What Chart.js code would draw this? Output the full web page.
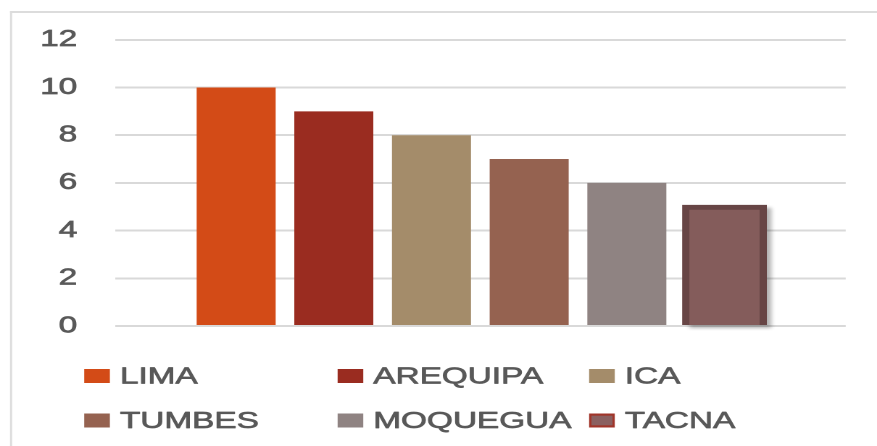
<!DOCTYPE html>
<html>
<head>
<meta charset="utf-8">
<script src="https://cdn.jsdelivr.net/npm/chart.js@4.4.1/dist/chart.umd.min.js"></script>
<style>
  html, body { margin: 0; padding: 0; background: #ffffff; overflow: hidden; }
  /* the chart is laid out in a narrower box and widened, giving the wide lettering */
  #wrap {
    position: absolute; left: 0; top: 0;
    width: 605px; height: 446px;
    transform: scaleX(1.4496);
    transform-origin: 0 0;
  }
</style>
</head>
<body>
<div id="wrap"><canvas id="chart"></canvas></div>
<script>
// Regions and their values
const regions = ['LIMA', 'AREQUIPA', 'ICA', 'TUMBES', 'MOQUEGUA', 'TACNA'];
const values = [10, 9, 8, 7, 6, 5];
const categories = [''];
const yTicks = [0, 2, 4, 6, 8, 10, 12];

const fills = ['#D34B17', '#9A2C20', '#A48C6A', '#956250', '#8F8382', '#845C5B'];

const FONT = '"Liberation Sans", Arial, sans-serif';
const TEXT = '#595959';

const datasets = regions.map((name, i) => {
  const ds = {
    label: name,
    data: [values[i]],
    backgroundColor: fills[i],
    borderWidth: 0,
    categoryPercentage: 0.802,
    barPercentage: 0.809
  };
  if (name === 'TACNA') {
    ds.borderColor = '#674545';
    ds.borderWidth = 5;
    ds.inflateAmount = 2;
    ds.swatchFill = '#8A6060';
    ds.swatchBorder = '#A0352A';
  }
  return ds;
});

// light frame along the top and left edges
const framePlugin = {
  id: 'frame',
  beforeDraw(chart) {
    const ctx = chart.ctx;
    ctx.save();
    ctx.fillStyle = '#DCDCDC';
    ctx.fillRect(6.9, 11, chart.width - 6.9, 2);
    ctx.fillRect(6.9, 11, 1.4, chart.height - 11);
    ctx.restore();
  }
};

// soft drop shadow behind the outlined bar
const shadowPlugin = {
  id: 'barShadow',
  beforeDatasetDraw(chart, args) {
    const ds = chart.data.datasets[args.index];
    if (!ds.swatchBorder) return;
    const el = args.meta.data[0];
    if (!el) return;
    const p = el.getProps(['x', 'y', 'base', 'width'], true);
    const ctx = chart.ctx;
    ctx.save();
    ctx.filter = 'blur(3px)';
    ctx.fillStyle = 'rgba(0,0,0,0.30)';
    const inflate = ds.inflateAmount || 0;
    ctx.fillRect(p.x - p.width / 2 + 3, p.y + 1, p.width + inflate, p.base - p.y + 2);
    ctx.restore();
  }
};

// three-column legend under the plot
const legendPlugin = {
  id: 'gridLegend',
  afterDraw(chart) {
    const ctx = chart.ctx;
    const cols = [58.1, 232.9, 406.4];
    const rows = [376, 420.5];
    const boxW = 17.7, boxH = 14, gap = 24.6;
    ctx.save();
    ctx.font = '23px ' + FONT;
    ctx.textBaseline = 'middle';
    ctx.textAlign = 'left';
    ctx.lineWidth = 0.7;
    ctx.lineJoin = 'round';
    chart.data.datasets.forEach((ds, i) => {
      const x = cols[i % 3];
      const y = rows[Math.floor(i / 3)];
      if (ds.swatchBorder) {
        ctx.fillStyle = ds.swatchBorder;
        ctx.fillRect(x, y - boxH / 2, boxW, boxH);
        ctx.fillStyle = ds.swatchFill;
        ctx.fillRect(x + 1.6, y - boxH / 2 + 2.2, boxW - 3.2, boxH - 4.4);
      } else {
        ctx.fillStyle = ds.backgroundColor;
        ctx.fillRect(x, y - boxH / 2, boxW, boxH);
      }
      ctx.fillStyle = TEXT;
      ctx.strokeStyle = TEXT;
      ctx.fillText(ds.label, x + gap, y + 1);
      ctx.strokeText(ds.label, x + gap, y + 1);
    });
    ctx.restore();
  }
};

new Chart(document.getElementById('chart'), {
  type: 'bar',
  data: { labels: categories, datasets },
  options: {
    responsive: true,
    maintainAspectRatio: false,
    devicePixelRatio: 2,
    animation: false,
    layout: { padding: { top: 39, bottom: 120, left: 0, right: 21.6 } },
    plugins: {
      legend: { display: false },
      tooltip: { enabled: false }
    },
    scales: {
      x: { display: false },
      y: {
        min: yTicks[0],
        max: yTicks[yTicks.length - 1],
        afterBuildTicks(scale) { scale.ticks = yTicks.map(v => ({ value: v })); },
        afterFit(scale) { scale.width = 79.3; },
        border: { display: false },
        grid: { color: '#D9D9D9', lineWidth: 2, drawTicks: false },
        ticks: {
          padding: 26,
          color: TEXT,
          textStrokeColor: TEXT,
          textStrokeWidth: 0.7,
          font: { family: FONT, size: 23 }
        }
      }
    }
  },
  plugins: [framePlugin, shadowPlugin, legendPlugin]
});
</script>
</body>
</html>
